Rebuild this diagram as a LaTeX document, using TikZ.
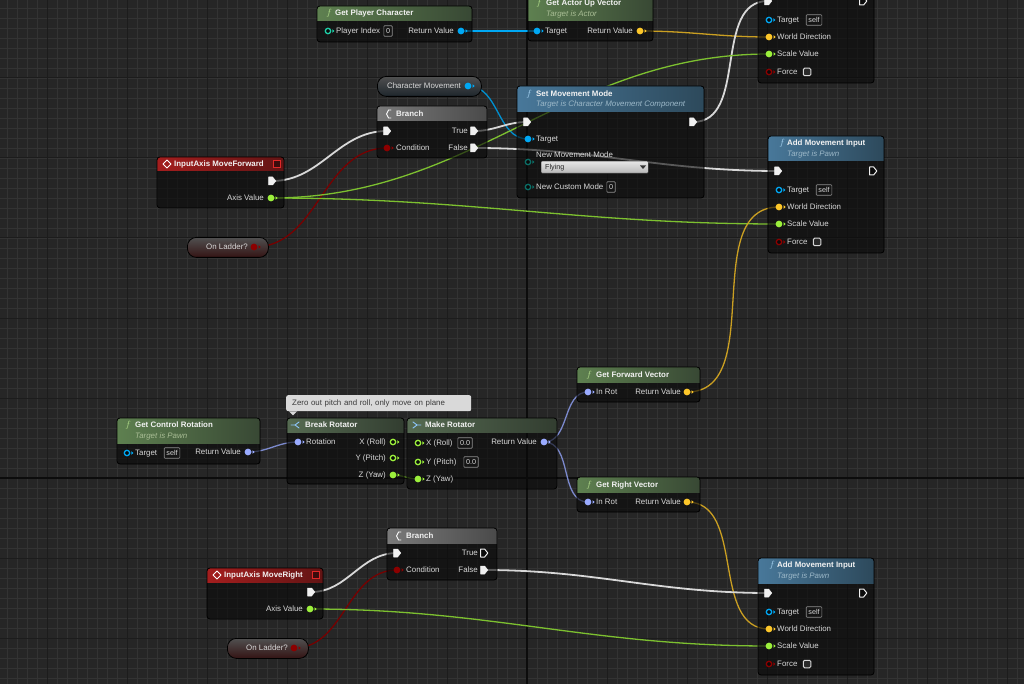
\documentclass[tikz,border=0pt]{standalone}
\usepackage{fontspec}
\setmainfont{Liberation Sans}
\usepackage{xcolor}
\usepackage{tikz}
\usetikzlibrary{calc,positioning}
\pgfdeclarelayer{grid}
\pgfdeclarelayer{wires}
\pgfsetlayers{grid,wires,main}

\definecolor{canvas}{HTML}{262626}
\definecolor{gridminor}{HTML}{333333}
\definecolor{gridmajor}{HTML}{1C1C1C}
\definecolor{gridaxis}{HTML}{0C0C0C}
\definecolor{nodebg}{HTML}{0A0A0A}
\definecolor{ttltext}{HTML}{F2F2F2}
\definecolor{lbltext}{HTML}{D8D8D8}
\definecolor{valgray}{HTML}{8C8C8C}
\definecolor{chkfill}{HTML}{2A2A2A}
\definecolor{fnL}{HTML}{5E8050}
\definecolor{fnR}{HTML}{384834}
\definecolor{tgL}{HTML}{48789A}
\definecolor{tgR}{HTML}{2D495B}
\definecolor{brL}{HTML}{7A7A7A}
\definecolor{brR}{HTML}{4A4A4A}
\definecolor{evL}{HTML}{A41E1E}
\definecolor{evR}{HTML}{621414}
\definecolor{roL}{HTML}{566B52}
\definecolor{roR}{HTML}{323D30}
\definecolor{fnG}{HTML}{B4E08C}
\definecolor{tgG}{HTML}{A9D6F5}
\definecolor{fnS}{HTML}{A9BD95}
\definecolor{tgS}{HTML}{9CB8C8}
\definecolor{icoB}{HTML}{8EC7FF}
\definecolor{execW}{HTML}{F0F0F0}
\definecolor{objB}{HTML}{00A8F4}
\definecolor{vecY}{HTML}{FDC72A}
\definecolor{fltG}{HTML}{9CF03C}
\definecolor{boolR}{HTML}{8C0000}
\definecolor{rotL}{HTML}{9AABFF}
\definecolor{intT}{HTML}{1FD0A8}
\definecolor{enuT}{HTML}{0B6E66}
\definecolor{pillT}{HTML}{505050}
\definecolor{pillCM}{HTML}{1E262C}
\definecolor{pillOL}{HTML}{341414}
\definecolor{ddT}{HTML}{E6E6E6}
\definecolor{ddB}{HTML}{B8B8B8}
\definecolor{cmtfill}{HTML}{D9D9D9}
\definecolor{cmttext}{HTML}{3A3A3A}
\definecolor{evsqR}{HTML}{E02828}

\newcommand{\bpfont}{\fontsize{7.9}{9}\selectfont}
\newcommand{\valfont}{\fontsize{7.2}{8}\selectfont}
% node body with its coloured title bar
\newcommand{\bpnode}[7]{%
  \node[bpbody, minimum width=#4pt, minimum height=#5pt] (#1) at (#2,#3) {};
  \begin{scope}
    \clip[rounded corners=3pt] (#1.north west) rectangle (#1.south east);
    \fill[#7] (#1.north west) rectangle ([yshift=-#6pt]#1.north east);
  \end{scope}
  \draw[bpedge] (#1.north west) rectangle (#1.south east);}
% exec pin
\newcommand{\xpin}[4]{%
  \coordinate (#1) at (#2,#3);
  \draw[#4] (#2,#3) ++(-3.4,-4) -- ++(4,0) -- ++(3.2,4) -- ++(-3.2,4) -- ++(-4,0) -- cycle;}
% data pins, filled and hollow
\newcommand{\dpin}[4]{%
  \node[dpin=#4] (#1) at (#2,#3) {};
  \fill[#4] (#1.east) ++(1,-1.8) -- ++(2,1.8) -- ++(-2,1.8) -- cycle;}
\newcommand{\hpin}[4]{%
  \node[hpin=#4] (#1) at (#2,#3) {};
  \fill[#4] (#1.east) ++(1,-1.8) -- ++(2,1.8) -- ++(-2,1.8) -- cycle;}

\begin{document}
\begin{tikzpicture}[x=1pt, y=-1pt,
  bpbody/.style={anchor=north west, inner sep=0pt, outer sep=0pt, rounded corners=3pt, fill=nodebg, fill opacity=0.62},
  bpedge/.style={draw=black, line width=0.8pt, rounded corners=3pt},
  fnhead/.style={left color=fnL, right color=fnR},
  tghead/.style={left color=tgL, right color=tgR},
  brhead/.style={left color=brL, right color=brR},
  evhead/.style={left color=evL, right color=evR},
  rohead/.style={left color=roL, right color=roR},
  pill/.style={anchor=north west, inner sep=0pt, rounded corners=9pt, draw=black, line width=0.8pt, top color=pillT, bottom color=#1},
  ttl/.style={font=\bpfont\bfseries, text=ttltext, inner sep=0pt, anchor=west, text height=5.6pt, text depth=1.4pt},
  subttl/.style={font=\bpfont\itshape, text=#1, inner sep=0pt, anchor=west, text height=5.6pt, text depth=1.4pt},
  lbl/.style={font=\bpfont, text=lbltext, inner sep=0pt, anchor=west, text height=5.6pt, text depth=1.4pt},
  lblr/.style={lbl, anchor=east},
  fglyph/.style={font=\fontsize{9.5}{9.5}\selectfont, text=#1, inner sep=0pt},
  ico/.style={draw=#1, line width=0.9pt, line cap=round, line join=round},
  evsq/.style={draw=evsqR, fill=evR!60!black, line width=1pt},
  valbox/.style={draw=valgray, line width=0.6pt, rounded corners=0.8pt, inner xsep=2.2pt, inner ysep=1pt, minimum height=10.5pt, font=\valfont, text=lbltext},
  chkbox/.style={draw=lbltext, line width=1pt, rounded corners=1.3pt, minimum size=7.5pt, inner sep=0pt, fill=chkfill},
  dropbox/.style={anchor=north west, inner sep=0pt, draw=black!70, top color=ddT, bottom color=ddB, rounded corners=1pt},
  comment/.style={anchor=north west, fill=cmtfill, rounded corners=2pt, text=cmttext, font=\bpfont, inner xsep=6pt, inner ysep=0pt, minimum height=16pt, text width=173pt},
  dpin/.style={circle, inner sep=0pt, minimum size=6.8pt, fill=#1},
  hpin/.style={circle, inner sep=0pt, minimum size=5.4pt, draw=#1, line width=1.3pt, fill=nodebg},
  xfull/.style={fill=execW, draw=execW, line width=0.5pt, line join=round},
  xhollow/.style={draw=execW, line width=1pt, line join=round, fill=nodebg},
  wire/.style={draw=#1, line width=1.3pt},
  xwire/.style={draw=execW!90!black, line width=1.8pt}]
  \useasboundingbox (0,0) rectangle (1024,684);
  % canvas grid
  \begin{pgfonlayer}{grid}
    \fill[canvas] (0,0) rectangle (1024,684);
    \foreach \gx in {7,17,...,1017} \draw[gridminor, line width=0.7pt] (\gx,0) -- (\gx,684);
    \foreach \gy in {8,18,...,678} \draw[gridminor, line width=0.7pt] (0,\gy) -- (1024,\gy);
    \foreach \gx in {47,127,...,1007} \draw[gridmajor, line width=1pt] (\gx,0) -- (\gx,684);
    \foreach \gy in {78,158,...,638} \draw[gridmajor, line width=1pt] (0,\gy) -- (1024,\gy);
    \draw[gridaxis, line width=1.3pt] (527,0) -- (527,684);
    \draw[gridaxis, line width=1.3pt] (0,478) -- (1024,478);
  \end{pgfonlayer}

  % Get Player Character
  \bpnode{gpc}{317}{6}{155}{36}{15}{fnhead}
  \node[fglyph=fnG] (gpc-f) at (329,13) {$f$};
  \node[ttl] (gpc-t) at (335,13) {Get Player Character};
  \hpin{gpc-idx}{328}{31}{intT}
  \node[lbl] (gpc-il) at (336,31) {Player Index};
  \node[valbox] (gpc-iv) at (388,31) {0};
  \node[lblr] (gpc-rl) at (454,31) {Return Value};
  \dpin{gpc-ret}{461}{31}{objB}

  % Get Actor Up Vector
  \bpnode{gauv}{528}{-5}{125}{46}{26}{fnhead}
  \node[fglyph=fnG] (gauv-f) at (539,3) {$f$};
  \node[ttl] (gauv-t) at (546,3) {Get Actor Up Vector};
  \node[subttl=fnS] (gauv-s) at (546,14) {Target is Actor};
  \dpin{gauv-tgt}{537}{31}{objB}
  \node[lbl] (gauv-tl) at (545,31) {Target};
  \node[lblr] (gauv-rl) at (633,31) {Return Value};
  \dpin{gauv-ret}{640}{31}{vecY}

  % Add Movement Input (x3), the top one with its title out of view
  \foreach \nm/\ax/\ay/\withttl in {amt/758/-34/0, amm/768/136/1, amb/758/558/1}{
    \bpnode{\nm}{\ax}{\ay}{116}{117}{25}{tghead}
    \ifnum\withttl=1
      \node[fglyph=tgG] (\nm-f) at (\ax+14,\ay+7) {$f$};
      \node[ttl] (\nm-t) at (\ax+19,\ay+7) {Add Movement Input};
      \node[subttl=tgS] (\nm-s) at (\ax+19,\ay+18) {Target is Pawn};
    \fi
    \xpin{\nm-in}{\ax+10}{\ay+35}{xfull}
    \xpin{\nm-out}{\ax+105}{\ay+35}{xhollow}
    \hpin{\nm-tgt}{\ax+11}{\ay+54}{objB}
    \node[lbl] (\nm-tl) at (\ax+19,\ay+54) {Target};
    \node[valbox] (\nm-tv) at (\ax+56,\ay+54) {self};
    \dpin{\nm-wd}{\ax+11}{\ay+71}{vecY}
    \node[lbl] (\nm-wl) at (\ax+19,\ay+71) {World Direction};
    \dpin{\nm-sv}{\ax+11}{\ay+88}{fltG}
    \node[lbl] (\nm-sl) at (\ax+19,\ay+88) {Scale Value};
    \hpin{\nm-frc}{\ax+11}{\ay+106}{boolR}
    \node[lbl] (\nm-fl) at (\ax+19,\ay+106) {Force};
    \node[chkbox] (\nm-fc) at (\ax+49,\ay+106) {};
  }

  % Character Movement variable
  \node[pill=pillCM, minimum width=104pt, minimum height=20pt] (cm) at (377,76) {};
  \node[lbl, anchor=center] (cm-l) at (424,86) {Character Movement};
  \dpin{cm-pin}{468}{86}{objB}

  % Set Movement Mode
  \bpnode{smm}{517}{86}{187}{112}{26}{tghead}
  \node[fglyph=tgG] (smm-f) at (529,94) {$f$};
  \node[ttl] (smm-t) at (536,94) {Set Movement Mode};
  \node[subttl=tgS] (smm-s) at (536,104) {Target is Character Movement Component};
  \xpin{smm-in}{527}{122}{xfull}
  \xpin{smm-out}{693}{122}{xfull}
  \dpin{smm-tgt}{528}{139}{objB}
  \node[lbl] (smm-tl) at (536,139) {Target};
  \node[lbl] (smm-ml) at (536,155) {New Movement Mode};
  \hpin{smm-mode}{528}{162}{enuT}
  \node[dropbox, minimum width=107pt, minimum height=12pt] (smm-dd) at (541,161) {};
  \node[lbl, text=black!85, font=\valfont] (smm-dv) at (545,167) {Flying};
  \fill[black!80] (640,165.5) -- (646,165.5) -- (643,169) -- cycle;
  \hpin{smm-cust}{528}{187}{enuT}
  \node[lbl] (smm-cl) at (536,187) {New Custom Mode};
  \node[valbox] (smm-cv) at (611,187) {0};

  % Branch (x2)
  \foreach \nm/\bx/\by/\tstyle in {br1/377/106/xfull, br2/387/528/xhollow}{
    \bpnode{\nm}{\bx}{\by}{110}{52}{15}{brhead}
    \draw[ico=white] (\bx+14,\by+4) -- (\bx+11.5,\by+4) -- (\bx+9.5,\by+8) -- (\bx+11.5,\by+12) -- (\bx+14,\by+12);
    \node[ttl] (\nm-t) at (\bx+19,\by+8) {Branch};
    \xpin{\nm-in}{\bx+10}{\by+25}{xfull}
    \node[lblr] (\nm-tl) at (\bx+91,\by+25) {True};
    \xpin{\nm-true}{\bx+97}{\by+25}{\tstyle}
    \dpin{\nm-cond}{\bx+10}{\by+42}{boolR}
    \node[lbl] (\nm-cl) at (\bx+19,\by+42) {Condition};
    \node[lblr] (\nm-fl) at (\bx+91,\by+42) {False};
    \xpin{\nm-false}{\bx+97}{\by+42}{xfull}
  }

  % input axis events
  \foreach \nm/\ix/\iy/\iw/\iatitle in {iaf/157/157/127/{InputAxis MoveForward}, iar/207/568/116/{InputAxis MoveRight}}{
    \bpnode{\nm}{\ix}{\iy}{\iw}{51}{14}{evhead}
    \draw[ico=white] (\ix+10,\iy+3) -- (\ix+14,\iy+7) -- (\ix+10,\iy+11) -- (\ix+6,\iy+7) -- cycle;
    \node[ttl] (\nm-t) at (\ix+17,\iy+7) {\iatitle};
    \draw[evsq] (\ix+\iw-11,\iy+3.5) rectangle ++(7,7);
    \xpin{\nm-exec}{\ix+\iw-12}{\iy+24}{xfull}
    \node[lblr] (\nm-al) at (\ix+\iw-20,\iy+41) {Axis Value};
    \dpin{\nm-axis}{\ix+\iw-13}{\iy+41}{fltG}
  }

  % On Ladder? variables
  \foreach \nm/\px/\py in {ol1/187/237, ol2/227/638}{
    \node[pill=pillOL, minimum width=81pt, minimum height=20pt] (\nm) at (\px,\py) {};
    \node[lbl, anchor=center] (\nm-l) at (\px+40,\py+10) {On Ladder?};
    \dpin{\nm-pin}{\px+67}{\py+10}{boolR}
  }

  % comment
  \node[comment] (cmt) at (286,395) {Zero out pitch and roll, only move on plane};
  \fill[cmtfill] (cmt.south west) ++(3,0) -- ++(4,4) -- ++(4,-4) -- cycle;

  % Get Control Rotation
  \bpnode{gcr}{117}{418}{143}{46}{25}{fnhead}
  \node[fglyph=fnG] (gcr-f) at (128,425) {$f$};
  \node[ttl] (gcr-t) at (135,425) {Get Control Rotation};
  \node[subttl=fnS] (gcr-s) at (135,436) {Target is Pawn};
  \hpin{gcr-tgt}{127}{453}{objB}
  \node[lbl] (gcr-tl) at (135,453) {Target};
  \node[valbox] (gcr-tv) at (172,453) {self};
  \node[lblr] (gcr-rl) at (241,452) {Return Value};
  \dpin{gcr-ret}{248}{452}{rotL}

  % Break Rotator
  \bpnode{brk}{287}{418}{117}{66}{14}{rohead}
  \draw[ico=icoB] (291,425) -- (295,425) (295,425) -- (299,422) (295,425) -- (299,428);
  \node[ttl] (brk-t) at (305,425) {Break Rotator};
  \dpin{brk-rot}{298}{442}{rotL}
  \node[lbl] (brk-rl) at (306,442) {Rotation};
  \node[lblr] (brk-xl) at (386,442) {X (Roll)};
  \hpin{brk-x}{393}{442}{fltG}
  \node[lblr] (brk-yl) at (386,458) {Y (Pitch)};
  \hpin{brk-y}{393}{458}{fltG}
  \node[lblr] (brk-zl) at (386,475) {Z (Yaw)};
  \dpin{brk-z}{393}{475}{fltG}

  % Make Rotator
  \bpnode{mk}{407}{418}{150}{71}{14}{rohead}
  \draw[ico=icoB] (413,422) -- (417,425) -- (413,428) (417,425) -- (421,425);
  \node[ttl] (mk-t) at (425,425) {Make Rotator};
  \hpin{mk-x}{418}{443}{fltG}
  \node[lbl] (mk-xl) at (426,443) {X (Roll)};
  \node[valbox] (mk-xv) at (465,443) {0.0};
  \hpin{mk-y}{418}{462}{fltG}
  \node[lbl] (mk-yl) at (426,462) {Y (Pitch)};
  \node[valbox] (mk-yv) at (471,462) {0.0};
  \dpin{mk-z}{418}{479}{fltG}
  \node[lbl] (mk-zl) at (426,479) {Z (Yaw)};
  \node[lblr] (mk-rl) at (537,442) {Return Value};
  \dpin{mk-ret}{544}{442}{rotL}

  % rotator to vector
  \foreach \nm/\vy/\vtitle in {gfv/367/{Get Forward Vector}, grv/477/{Get Right Vector}}{
    \bpnode{\nm}{577}{\vy}{123}{35}{15}{fnhead}
    \node[fglyph=fnG] (\nm-f) at (589,\vy+8) {$f$};
    \node[ttl] (\nm-t) at (596,\vy+8) {\vtitle};
    \dpin{\nm-in}{588}{\vy+25}{rotL}
    \node[lbl] (\nm-il) at (596,\vy+25) {In Rot};
    \node[lblr] (\nm-rl) at (681,\vy+25) {Return Value};
    \dpin{\nm-ret}{687}{\vy+25}{vecY}
  }

  % wires
  \begin{pgfonlayer}{wires}
    \draw[wire=objB] (gpc-ret.center) -- (gauv-tgt.center);
    \draw[wire=vecY!80!black] (gauv-ret.center) to[out=0,in=180] (amt-wd.center);
    \draw[wire=objB!85!black] (cm-pin.center) to[out=0,in=180] (smm-tgt.center);
    \draw[xwire] (br1-true) to[out=0,in=180] (smm-in);
    \draw[xwire] (br1-false) to[out=0,in=180] (amm-in);
    \draw[xwire] (smm-out) to[out=0,in=180] (amt-in);
    \draw[xwire] (iaf-exec) to[out=0,in=180] (br1-in);
    \draw[wire=boolR!85!black] (ol1-pin.center) to[out=0,in=180] (br1-cond.center);
    \draw[wire=fltG!80!black] (iaf-axis.center) to[out=0,in=180] (amt-sv.center);
    \draw[wire=fltG!80!black] (iaf-axis.center) to[out=0,in=180] (amm-sv.center);
    \draw[wire=rotL!80!black] (gcr-ret.center) to[out=0,in=180] (brk-rot.center);
    \draw[wire=fltG!55!black] (brk-z.center) to[out=0,in=180] (mk-z.center);
    \draw[wire=rotL!80!black] (mk-ret.center) to[out=0,in=180] (gfv-in.center);
    \draw[wire=rotL!80!black] (mk-ret.center) to[out=0,in=180] (grv-in.center);
    \draw[wire=vecY!80!black] (gfv-ret.center) to[out=0,in=180] (amm-wd.center);
    \draw[wire=vecY!80!black] (grv-ret.center) to[out=0,in=180] (amb-wd.center);
    \draw[xwire] (iar-exec) to[out=0,in=180] (br2-in);
    \draw[wire=boolR!85!black] (ol2-pin.center) to[out=0,in=180] (br2-cond.center);
    \draw[xwire] (br2-false) to[out=0,in=180] (amb-in);
    \draw[wire=fltG!80!black] (iar-axis.center) to[out=0,in=180] (amb-sv.center);
  \end{pgfonlayer}
\end{tikzpicture}
\end{document}
